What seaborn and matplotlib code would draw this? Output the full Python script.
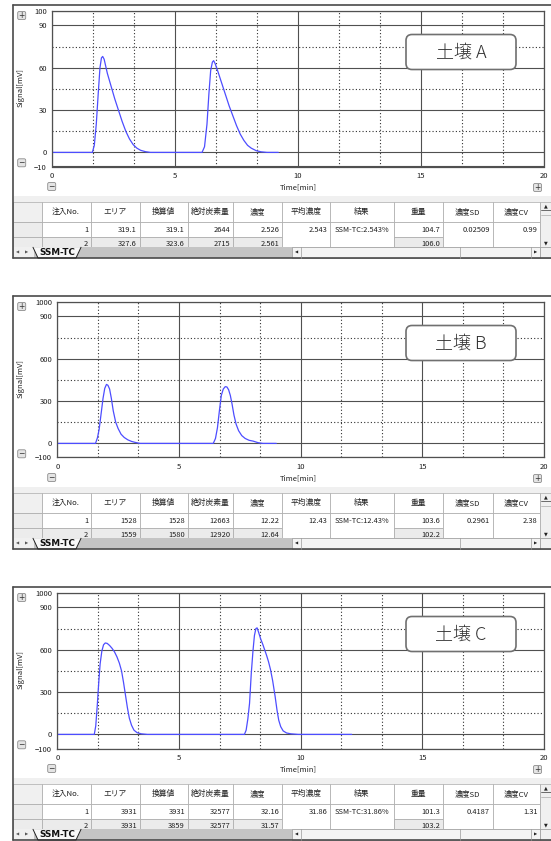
import numpy as np
import pandas as pd
import seaborn as sns
import matplotlib.pyplot as plt
from matplotlib.patches import Rectangle, FancyBboxPatch, Polygon

sns.set_theme(style="white")
plt.rcParams['font.family'] = ['Noto Sans CJK JP', 'DejaVu Sans']

W, H = 551, 841

# Signal traces (time in min, signal in mV)
time_a = [0, 1.64, 1.72, 1.80, 1.88, 1.95, 2.01, 2.06, 2.12, 2.25, 2.40, 2.55, 2.70, 2.85,
          3.00, 3.15, 3.30, 3.45, 3.60, 3.80, 4.00,
          6.10, 6.20, 6.30, 6.38, 6.45, 6.52, 6.57, 6.63, 6.75, 6.90, 7.05, 7.20, 7.35,
          7.50, 7.65, 7.80, 7.95, 8.10, 8.30, 8.50, 8.74, 9.20]
signal_a = [0, 0, 5, 20, 42, 60, 67, 68, 66, 56, 47, 38, 30, 22,
            15, 9.5, 5.5, 3, 1.5, 0.5, 0,
            0, 4, 20, 42, 58, 64, 65, 63, 57, 49, 41, 33, 26,
            19, 13, 8.5, 5, 3, 1.2, 0.4, 0, 0]

time_b = [0, 1.57, 1.65, 1.72, 1.80, 1.88, 1.95, 2.02, 2.08, 2.15, 2.22, 2.30, 2.40, 2.50,
          2.62, 2.75, 2.90, 3.05, 3.20, 3.40,
          6.41, 6.50, 6.58, 6.66, 6.74, 6.82, 6.90, 6.97, 7.04, 7.11, 7.18, 7.26, 7.35,
          7.45, 7.58, 7.72, 7.88, 8.05, 8.25, 8.45, 9.00]
signal_b = [0, 0, 40, 100, 210, 320, 390, 418, 412, 385, 320, 230, 150, 105,
            65, 42, 25, 14, 7, 0,
            0, 35, 110, 230, 340, 385, 402, 400, 380, 340, 280, 200, 135,
            90, 55, 35, 22, 16, 5, 0, 0]

time_c = [0, 1.52, 1.58, 1.64, 1.70, 1.76, 1.83, 1.90, 1.97, 2.05, 2.15, 2.25, 2.35, 2.45,
          2.55, 2.64, 2.72, 2.80, 2.88, 2.96, 3.05, 3.15, 3.28, 3.45, 3.70,
          7.69, 7.76, 7.83, 7.90, 7.97, 8.04, 8.10, 8.16, 8.21, 8.27, 8.35, 8.44, 8.52,
          8.60, 8.68, 8.76, 8.85, 8.95, 9.03, 9.10, 9.18, 9.28, 9.42, 9.60, 9.90, 12.10]
signal_c = [0, 0, 60, 200, 360, 500, 590, 635, 648, 645, 630, 610, 585, 550,
            505, 450, 370, 280, 190, 115, 65, 30, 12, 4, 0,
            0, 30, 110, 220, 430, 590, 700, 750, 755, 725, 680, 640, 600,
            560, 515, 460, 380, 270, 170, 100, 55, 25, 10, 4, 0, 0]

sample_labels = ['土壌 A', '土壌 B', '土壌 C']
y_limits = [(-10, 100), (-100, 1000), (-100, 1000)]
y_major = [[-10, 0, 30, 60, 90, 100], [-100, 0, 300, 600, 900, 1000], [-100, 0, 300, 600, 900, 1000]]
y_minor = [[15, 45, 75], [150, 450, 750], [150, 450, 750]]
x_major = [0, 5, 10, 15, 20]
x_minor = [1.667, 3.333, 6.667, 8.333, 11.667, 13.333, 16.667, 18.333]

table_header = ['', '注入No.', 'エリア', '換算値', '絶対炭素量', '濃度', '平均濃度', '結果', '重量', '濃度SD', '濃度CV']
table_a = [['1', '319.1', '319.1', '2644', '2.526', '2.543', 'SSM-TC:2.543%', '104.7', '0.02509', '0.99'],
           ['2', '327.6', '323.6', '2715', '2.561', '', '', '106.0', '', '']]
table_b = [['1', '1528', '1528', '12663', '12.22', '12.43', 'SSM-TC:12.43%', '103.6', '0.2961', '2.38'],
           ['2', '1559', '1580', '12920', '12.64', '', '', '102.2', '', '']]
table_c = [['1', '3931', '3931', '32577', '32.16', '31.86', 'SSM-TC:31.86%', '101.3', '0.4187', '1.31'],
           ['2', '3931', '3859', '32577', '31.57', '', '', '103.2', '', '']]

times = [time_a, time_b, time_c]
signals = [signal_a, signal_b, signal_c]
tables = [table_a, table_b, table_c]

panel_tops = [5, 296, 587]
plot_lefts = [52, 57.3, 57.3]
col_edges = [13, 41.5, 90.5, 139.5, 187.5, 233, 282, 330, 394, 443, 492.5, 540]
merged_cols = [6, 7, 9, 10]
line_col = '#4d4dff'
frame_col = '#4a4a4a'
cell_edge = '#a8a8a8'

fig = plt.figure(figsize=(W / 100, H / 100), dpi=100)

under = fig.add_axes([0, 0, 1, 1], zorder=0)
over = fig.add_axes([0, 0, 1, 1], zorder=5)
for a in (under, over):
    a.set_xlim(0, W)
    a.set_ylim(H, 0)
    a.axis('off')


def button(x, y, sign):
    over.add_patch(FancyBboxPatch((x - 4, y - 4), 8, 8, boxstyle='round,pad=0,rounding_size=1.5',
                                  fc='#e4e4e4', ec='#8c8c8c', lw=0.6))
    over.text(x, y + 0.3, sign, ha='center', va='center', fontsize=5.5, color='#333333',
              family='DejaVu Sans')


for k in range(3):
    top = panel_tops[k]

    # window frame
    under.add_patch(Rectangle((13, top), W - 13, 253, fc='white', ec='none'))
    under.plot([13, 13], [top, top + 253], color=frame_col, lw=1.2)
    under.plot([13, W], [top, top], color=frame_col, lw=1.2)
    under.plot([13, W], [top + 253, top + 253], color=frame_col, lw=1.2)

    # chart
    left, right, ptop, pbot = plot_lefts[k], 544, top + 6.3, top + 161.5
    ax = fig.add_axes([left / W, 1 - pbot / H, (right - left) / W, (pbot - ptop) / H], zorder=2)
    df = pd.DataFrame({'Time[min]': times[k], 'Signal[mV]': signals[k]})
    sns.lineplot(data=df, x='Time[min]', y='Signal[mV]', ax=ax, color=line_col, lw=0.9,
                 sort=False, estimator=None)
    ax.set_xlim(0, 20)
    ax.set_ylim(*y_limits[k])
    ax.set_xticks(x_major)
    ax.set_xticks(x_minor, minor=True)
    ax.set_yticks(y_major[k])
    ax.set_yticks(y_minor[k], minor=True)
    ax.grid(which='major', color='#505050', lw=0.8, ls='-')
    ax.grid(which='minor', color='#303030', lw=0.8, ls=(0, (1, 2)))
    ax.tick_params(which='both', length=0, labelsize=5.5, colors='#202020')
    ax.tick_params(axis='x', pad=4)
    ax.tick_params(axis='y', pad=3.8)
    for s in ax.spines.values():
        s.set_color('#505050')
        s.set_linewidth(0.9)
    ax.set_xlabel('Time[min]', fontsize=5.5, color='#202020')
    ax.set_ylabel('Signal[mV]', fontsize=5.5, color='#202020')
    ax.xaxis.set_label_coords(298, top + 182, transform=under.transData)
    ax.yaxis.set_label_coords(21, top + 83, transform=under.transData)
    ax.xaxis.label.set_va('center')
    ax.yaxis.label.set_va('center')
    ax.yaxis.label.set_ha('center')

    # sample name box
    over.add_patch(FancyBboxPatch((406, top + 29.5), 110, 35, boxstyle='round,pad=0,rounding_size=6',
                                  fc='white', ec='#707070', lw=1.2))
    over.text(461, top + 47.5, sample_labels[k], ha='center', va='center', fontsize=13,
              color='#303030', fontweight='light')

    # zoom buttons
    button(21.7, top + 10.5, '+')
    button(21.7, top + 157.8, '−')
    button(51.7, top + 181.5, '−')
    button(537.5, top + 182.5, '+')

    # table
    hdr_top, hdr_bot = top + 197.3, top + 217.3
    r1_bot, r2_bot, tab_bot = top + 232, top + 242.3, top + 253
    under.add_patch(Rectangle((13.6, top + 191), W - 13.6, 6.3, fc='#f0f0f0', ec='none'))
    rows = tables[k]
    for i in range(len(table_header)):
        x0, x1 = col_edges[i], col_edges[i + 1]
        under.add_patch(Rectangle((x0, hdr_top), x1 - x0, hdr_bot - hdr_top,
                                  fc='#f0f0f0' if i == 0 else 'white', ec=cell_edge, lw=0.5))
        under.text((x0 + x1) / 2, (hdr_top + hdr_bot) / 2, table_header[i], ha='center',
                   va='center', fontsize=5.6, color='#202020')
        if i == 0:
            for (ya, yb) in [(hdr_bot, r1_bot), (r1_bot, r2_bot)]:
                under.add_patch(Rectangle((x0, ya), x1 - x0, yb - ya, fc='#ececec', ec=cell_edge, lw=0.5))
            continue
        if i in merged_cols:
            under.add_patch(Rectangle((x0, hdr_bot), x1 - x0, r2_bot - hdr_bot, fc='white',
                                      ec=cell_edge, lw=0.5))
        else:
            under.add_patch(Rectangle((x0, hdr_bot), x1 - x0, r1_bot - hdr_bot, fc='white',
                                      ec=cell_edge, lw=0.5))
            under.add_patch(Rectangle((x0, r1_bot), x1 - x0, r2_bot - r1_bot, fc='#ebebeb',
                                      ec=cell_edge, lw=0.5))
        for r, (ya, yb) in enumerate([(hdr_bot, r1_bot), (r1_bot, r2_bot + 3)]):
            val = rows[r][i - 1]
            if i == 7:
                under.text((x0 + x1) / 2, (ya + yb) / 2, val, ha='center', va='center',
                           fontsize=5.4, color='#202020')
            else:
                under.text(x1 - 2.5, (ya + yb) / 2, val, ha='right', va='center',
                           fontsize=5.4, color='#202020')

    # vertical scrollbar
    under.add_patch(Rectangle((540, hdr_top), W - 540, r2_bot - hdr_top, fc='#f0f0f0',
                              ec=cell_edge, lw=0.5))
    under.text(545.5, hdr_top + 4, '▲', ha='center', va='center', fontsize=3.5, color='#222222',
               family='DejaVu Sans')
    under.plot([541, W], [hdr_top + 8, hdr_top + 8], color='#555555', lw=0.6)
    under.plot([541, W], [hdr_top + 13, hdr_top + 13], color='#aaaaaa', lw=0.5)
    under.text(545.5, r2_bot - 4, '▼', ha='center', va='center', fontsize=3.5, color='#222222',
               family='DejaVu Sans')

    # sheet tab bar
    under.add_patch(Rectangle((13, r2_bot), W - 13, tab_bot - r2_bot, fc='#c4c4c4', ec='none'))
    under.add_patch(Rectangle((13.6, r2_bot), 20, tab_bot - r2_bot, fc='#f0f0f0', ec='none'))
    under.text(18, (r2_bot + tab_bot) / 2, '◀', ha='center', va='center', fontsize=3,
               color='#555555', family='DejaVu Sans')
    under.text(27, (r2_bot + tab_bot) / 2, '▶', ha='center', va='center', fontsize=3,
               color='#555555', family='DejaVu Sans')
    under.add_patch(Polygon([(33, r2_bot), (38, tab_bot), (76, tab_bot), (81, r2_bot)],
                            closed=True, fc='#f8f8f8', ec='none'))
    under.plot([33, 38, 76, 81], [r2_bot, tab_bot, tab_bot, r2_bot], color='#222222', lw=0.7)
    under.text(57, (r2_bot + tab_bot) / 2 + 0.3, 'SSM-TC', ha='center', va='center', fontsize=6.3,
               fontweight='bold', color='#111111', family='DejaVu Sans')
    under.add_patch(Rectangle((292, r2_bot), 248, tab_bot - r2_bot, fc='#f4f4f4', ec='#9a9a9a', lw=0.5))
    under.plot([301, 301], [r2_bot, tab_bot], color='#9a9a9a', lw=0.5)
    under.plot([460, 460], [r2_bot, tab_bot], color='#9a9a9a', lw=0.5)
    under.plot([531, 531], [r2_bot, tab_bot], color='#9a9a9a', lw=0.5)
    under.text(296.5, (r2_bot + tab_bot) / 2, '◀', ha='center', va='center', fontsize=3,
               color='#222222', family='DejaVu Sans')
    under.text(535.5, (r2_bot + tab_bot) / 2, '▶', ha='center', va='center', fontsize=3,
               color='#222222', family='DejaVu Sans')
    under.add_patch(Rectangle((540, r2_bot), W - 540, tab_bot - r2_bot, fc='#f0f0f0', ec='#9a9a9a', lw=0.5))

fig.savefig('out.png', dpi=100)
